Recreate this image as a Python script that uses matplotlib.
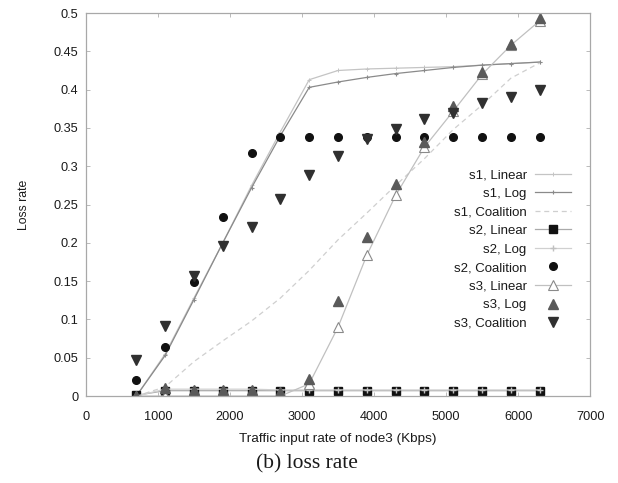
import numpy as np
import matplotlib.pyplot as plt
from matplotlib.ticker import FuncFormatter, MultipleLocator

# traffic input rate of node3 (Kbps)
rate = [700, 1100, 1500, 1900, 2300, 2700, 3100, 3500, 3900, 4300, 4700, 5100, 5500, 5900, 6300]

s1_linear = [0.0, 0.055, 0.128, 0.2, 0.275, 0.345, 0.413, 0.425, 0.427, 0.428, 0.429, 0.43, 0.432, 0.434, 0.436]
s1_log = [0.0, 0.053, 0.126, 0.2, 0.272, 0.34, 0.403, 0.41, 0.416, 0.421, 0.425, 0.429, 0.432, 0.434, 0.436]
s1_coalition = [0.0, 0.012, 0.045, 0.072, 0.098, 0.128, 0.164, 0.204, 0.239, 0.275, 0.31, 0.348, 0.38, 0.415, 0.435]
s2_linear = [0.001, 0.007, 0.007, 0.007, 0.007, 0.007, 0.007, 0.007, 0.007, 0.007, 0.007, 0.007, 0.007, 0.007, 0.007]
s2_log = [0.0, 0.009, 0.009, 0.009, 0.009, 0.008, 0.008, 0.008, 0.008, 0.008, 0.008, 0.008, 0.008, 0.008, 0.008]
s2_coalition = [0.021, 0.064, 0.149, 0.234, 0.317, 0.338, 0.338, 0.338, 0.338, 0.338, 0.338, 0.338, 0.338, 0.338, 0.338]
s3_linear = [0.0, 0.0, 0.0, 0.0, 0.0, 0.0, 0.016, 0.09, 0.184, 0.262, 0.325, 0.372, 0.42, 0.458, 0.49]
s3_log = [0.0, 0.01, 0.008, 0.008, 0.008, 0.005, 0.022, 0.124, 0.208, 0.277, 0.332, 0.379, 0.423, 0.46, 0.493]
s3_coalition = [0.047, 0.091, 0.157, 0.196, 0.221, 0.257, 0.289, 0.313, 0.335, 0.349, 0.362, 0.37, 0.382, 0.391, 0.399]

plt.rcParams['font.family'] = ['Liberation Sans', 'DejaVu Sans']

fig = plt.figure(figsize=(6.18, 4.83), dpi=100)
ax = fig.add_axes([0.139, 0.180, 0.816, 0.793])

ax.plot(rate, s1_linear, color='#c4c4c4', lw=0.9, marker='+', ms=3, mew=0.7, label='s1, Linear')
ax.plot(rate, s1_log, color='#8a8a8a', lw=0.9, marker='+', ms=3, mew=0.8, label='s1, Log')
ax.plot(rate, s1_coalition, color='#cfcfcf', lw=0.9, ls=(0, (4, 3)), label='s1, Coalition')
ax.plot(rate, s2_linear, color='#aaaaaa', lw=0.9, marker='s', ms=6, mfc='#111111', mec='#111111', label='s2, Linear')
ax.plot(rate, s2_log, color='#d0d0d0', lw=0.9, marker='+', ms=4, mec='#c0c0c0', label='s2, Log')
ax.plot(rate, s2_coalition, ls='none', marker='o', ms=5.5, color='#111111', label='s2, Coalition')
ax.plot(rate, s3_linear, color='#c0c0c0', lw=0.9, marker='^', ms=6.5, mfc='white', mec='#8a8a8a', mew=0.8, label='s3, Linear')
ax.plot(rate, s3_log, ls='none', marker='^', ms=6.5, color='#5a5a5a', label='s3, Log')
ax.plot(rate, s3_coalition, ls='none', marker='v', ms=7, color='#303030', label='s3, Coalition')

ax.set_xlim(0, 7000)
ax.set_ylim(0, 0.5)
ax.xaxis.set_major_locator(MultipleLocator(1000))
ax.yaxis.set_major_locator(MultipleLocator(0.05))
ax.yaxis.set_major_formatter(FuncFormatter(lambda v, p: f'{round(v, 2):g}'))

for s in ax.spines.values():
    s.set_color('#a8a8a8')
    s.set_linewidth(0.9)
ax.tick_params(direction='in', length=3, width=0.6, color='#b0b0b0',
               top=True, right=True, labelsize=9.2, labelcolor='#1a1a1a')
ax.tick_params(axis='x', pad=11)
ax.tick_params(axis='y', pad=5.5)

ax.set_xlabel('Traffic input rate of node3 (Kbps)', fontsize=9.7, color='#1a1a1a', labelpad=7)
ax.set_ylabel('Loss rate', fontsize=8.8, color='#1a1a1a', labelpad=17)

ax.legend(loc='upper right', bbox_to_anchor=(0.976, 0.61), frameon=False, markerfirst=False,
          fontsize=9.5, handlelength=2.8, handletextpad=0.6, labelspacing=0.48, borderpad=0,
          labelcolor='#1a1a1a')

fig.text(0.497, 0.04, '(b) loss rate', ha='center', va='center', fontsize=15.5,
         family=['Liberation Serif', 'DejaVu Serif'], color='#1a1a1a')

fig.savefig('out.png', dpi=100)
